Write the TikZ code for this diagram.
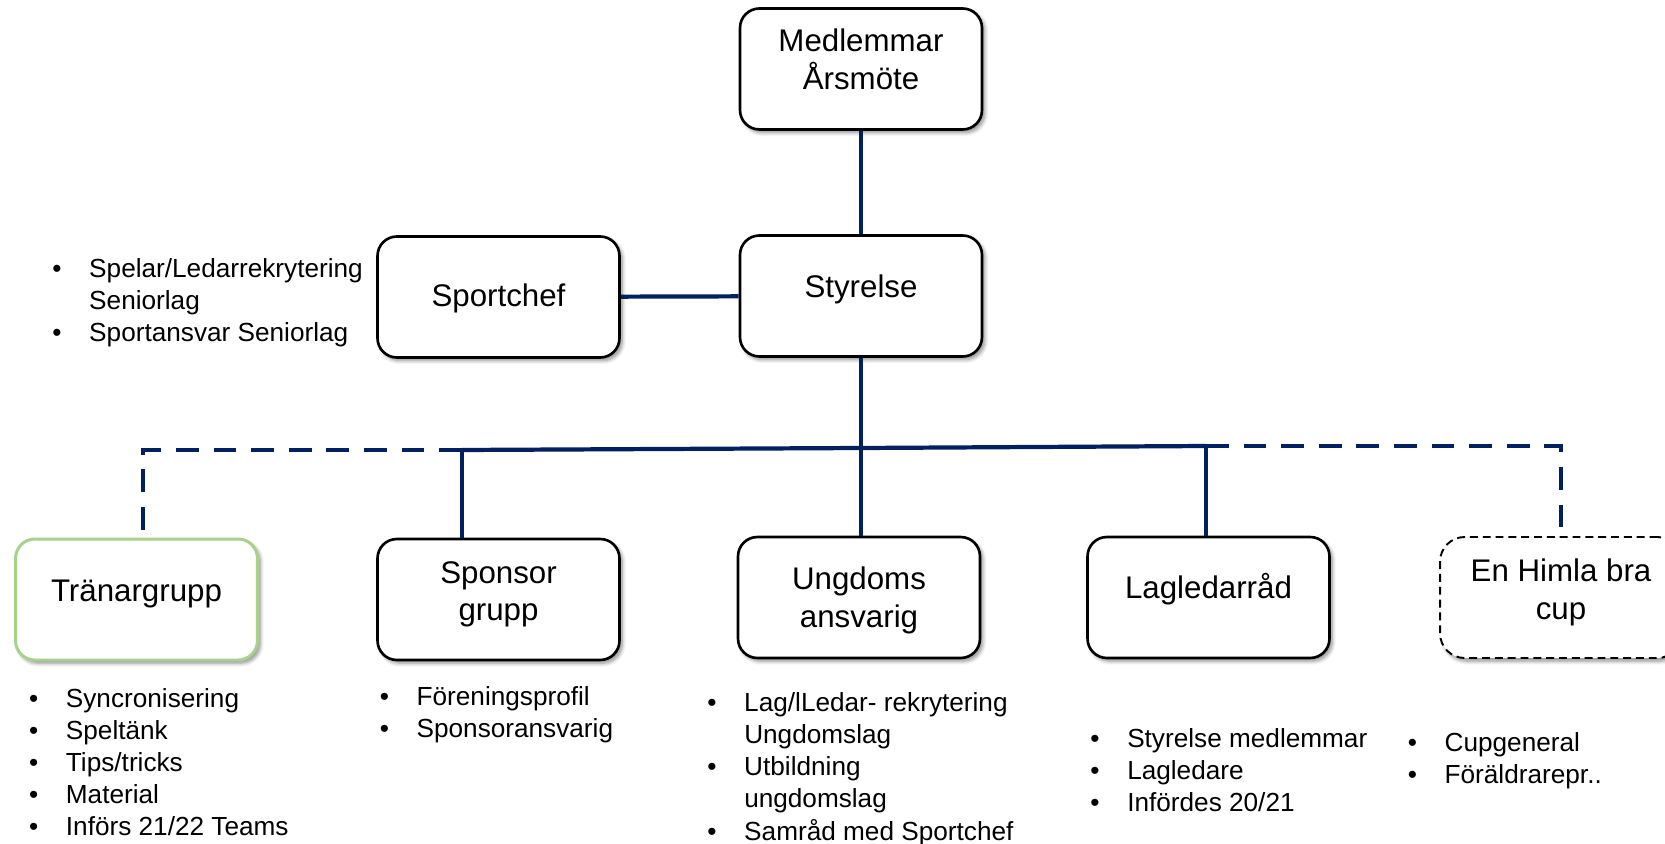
\documentclass[tikz,border=0pt]{standalone}
\usepackage{fontspec}
\setmainfont{Liberation Sans}
\usepackage{xcolor}
\usetikzlibrary{shadows.blur}
\definecolor{marin}{HTML}{002060}
\definecolor{ljusgron}{HTML}{A9D18E}
\tikzset{
    ruta/.style = {draw=black, line width=1.5pt, fill=white, rectangle, rounded corners=11pt, minimum width=4.84cm, minimum height=2.42cm, inner sep=0pt, blur shadow={shadow xshift=1.6pt, shadow yshift=-1.8pt, shadow blur steps=6, shadow opacity=45}},
    ruta-text/.style = {font=\fontsize{17.8}{21.5}\selectfont, align=center, inner sep=0pt},
    punkter/.style = {font=\fontsize{14.9}{18.3}\selectfont, anchor=base west, inner sep=0pt},
    linje/.style = {draw=marin, line width=2.4pt},
    streckad/.style = {linje, dash pattern=on 13pt off 8.4pt},
}
\newcommand{\lista}[1]{\begin{tabular}[t]{@{}p{21pt}@{}l@{}}#1\end{tabular}}

\begin{document}
\begin{tikzpicture}[x=0.02cm, y=-0.02cm]
\useasboundingbox (0,0) rectangle (1665,844);

% rutorna
\node [ruta] (medlemmar) at (861,69) {};
\node [ruta] (styrelse) at (861,296) {};
\node [ruta] (sportchef) at (498.5,297) {};
\node [ruta, draw=ljusgron, line width=1.7pt] (tranar) at (136.5,599.5) {};
\node [ruta] (sponsor) at (498.5,599.5) {};
\node [ruta] (ungdoms) at (859,597.5) {};
\node [ruta] (lagledar) at (1208.5,597.5) {};
\node [ruta, line width=1.1pt, dash pattern=on 4.5pt off 2.8pt, rounded corners=14pt] (himla) at (1561,597.5) {};

\node [ruta-text] (medlemmar-t) at ([yshift=5.4pt]medlemmar.center) {Medlemmar\\Årsmöte};
\node [ruta-text] (styrelse-t) at ([yshift=4pt]styrelse.center) {Styrelse};
\node [ruta-text] (sportchef-t) at ([yshift=-1pt]sportchef.center) {Sportchef};
\node [ruta-text] (tranar-t) at ([yshift=3pt]tranar.center) {Tränargrupp};
\node [ruta-text] (sponsor-t) at ([yshift=3pt]sponsor.center) {Sponsor\\grupp};
\node [ruta-text] (ungdoms-t) at ([yshift=-1.5pt]ungdoms.center) {Ungdoms\\ansvarig};
\node [ruta-text] (lagledar-t) at ([yshift=4.5pt]lagledar.center) {Lagledarråd};
\node [ruta-text] (himla-t) at ([yshift=3pt]himla.center) {En Himla bra\\cup};

% linjer
\coordinate (knut) at (861,448);
\coordinate (gren-v) at (462,450);
\coordinate (gren-h) at (1206,446);
\coordinate (horn-v) at (143,450);
\coordinate (horn-h) at (1561,446);

\draw [linje] (medlemmar) -- (styrelse);
\draw [linje] (sportchef) -- (styrelse);
\draw [linje] (styrelse) -- (knut) -- (knut |- ungdoms.north);
\draw [linje] (gren-v) -- (knut) -- (gren-h);
\draw [linje] (gren-v) -- (gren-v |- sponsor.north);
\draw [linje] (gren-h) -- (gren-h |- lagledar.north);
\draw [streckad] (gren-v) -- (horn-v) -- (horn-v |- tranar.north);
\draw [streckad] (gren-h) -- (horn-h) -- (horn-h |- himla.north);

% punktlistor
\node [punkter] (sportchef-lista) at (52,277) {\lista{\textbullet & Spelar/Ledarrekrytering\\ & Seniorlag\\ \textbullet & Sportansvar Seniorlag}};
\node [punkter] (tranar-lista) at (28.7,707) {\lista{\textbullet & Syncronisering\\ \textbullet & Speltänk\\ \textbullet & Tips/tricks\\ \textbullet & Material\\ \textbullet & Införs 21/22 Teams}};
\node [punkter] (sponsor-lista) at (379.4,705) {\lista{\textbullet & Föreningsprofil\\ \textbullet & Sponsoransvarig}};
\node [punkter] (ungdoms-lista) at (707,711.5) {\lista{\textbullet & Lag/lLedar- rekrytering\\ & Ungdomslag\\ \textbullet & Utbildning\\ & ungdomslag\\ \textbullet & Samråd med Sportchef}};
\node [punkter] (lagledar-lista) at (1090,747) {\lista{\textbullet & Styrelse medlemmar\\ \textbullet & Lagledare\\ \textbullet & Infördes 20/21}};
\node [punkter] (himla-lista) at (1407.4,751) {\lista{\textbullet & Cupgeneral\\ \textbullet & Föräldrarepr..}};
\end{tikzpicture}
\end{document}
